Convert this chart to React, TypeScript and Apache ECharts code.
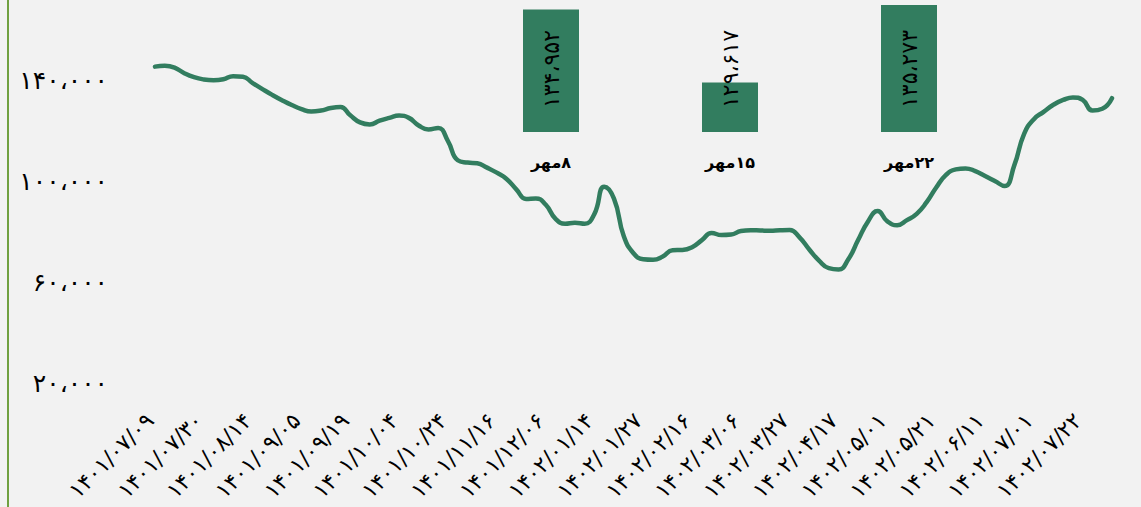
import React, { useEffect, useRef } from "react";
import * as echarts from "echarts";

// X tick labels (every 5th data point)
const dateLabels: string[] = [
  "۱۴۰۱/۰۷/۰۹", "۱۴۰۱/۰۷/۳۰", "۱۴۰۱/۰۸/۱۴", "۱۴۰۱/۰۹/۰۵", "۱۴۰۱/۰۹/۱۹",
  "۱۴۰۱/۱۰/۰۴", "۱۴۰۱/۱۰/۲۴", "۱۴۰۱/۱۱/۱۶", "۱۴۰۱/۱۲/۰۶", "۱۴۰۲/۰۱/۱۴",
  "۱۴۰۲/۰۱/۲۷", "۱۴۰۲/۰۲/۱۶", "۱۴۰۲/۰۳/۰۶", "۱۴۰۲/۰۳/۲۷", "۱۴۰۲/۰۴/۱۷",
  "۱۴۰۲/۰۵/۰۱", "۱۴۰۲/۰۵/۲۱", "۱۴۰۲/۰۶/۱۱", "۱۴۰۲/۰۷/۰۱", "۱۴۰۲/۰۷/۲۲",
];

// Line series values
const lineValues: number[] = [
  145300, 145600, 144900, 142700, 141100, 140200, 139900, 140300, 141500, 141300,
  138800, 136400, 134100, 132000, 130100, 128500, 127500, 127900, 128900, 129300,
  126000, 123200, 122400, 123900, 125000, 125900, 125000, 122000, 120400, 121000,
  115800, 108200, 107300, 107000, 105300, 103300, 100800, 96700, 92900, 93100,
  90700, 85100, 83100, 83500, 83100, 87000, 97700, 93000, 78200, 71400,
  69000, 68800, 70100, 72600, 72700, 73800, 76600, 79400, 78600, 78800,
  80200, 80500, 80400, 80300, 80500, 80600, 77700, 72900, 68500, 65500,
  65000, 69000, 76600, 83900, 88100, 84000, 82500, 84500, 87000, 91500,
  97400, 102400, 104600, 105000, 103900, 102000, 100000, 98000, 106300, 118700,
  124500, 127400, 130200, 132100, 133100, 132100, 127900, 128600, 132800,
];

// Inset bar chart
const barCategories: string[] = ["۸مهر", "۱۵مهر", "۲۲مهر"];
const barValues: number[] = [134952, 129617, 135273];

const FA_DIGITS = "۰۱۲۳۴۵۶۷۸۹";
const toFa = (s: string) => s.replace(/\d/g, (d) => FA_DIGITS[+d]);
const fmtNum = (n: number) =>
  toFa(String(Math.round(n)).replace(/\B(?=(\d{3})+(?!\d))/g, "،"));

const GREEN = "#327D5F";
const FONT = "DejaVu Sans";

export default function App() {
  const ref = useRef<HTMLDivElement>(null);

  useEffect(() => {
    if (!ref.current) return;
    const chart = echarts.init(ref.current, undefined, { renderer: "svg" });
    const categories = lineValues.map((_, i) => String(i));

    chart.setOption({
      animation: false,
      backgroundColor: "#F2F2F2",
      textStyle: { fontFamily: FONT },
      graphic: [
        {
          type: "rect",
          shape: { x: 7, y: 0, width: 2, height: 507 },
          style: { fill: "#70A040" },
          silent: true,
        },
      ],
      grid: [
        { left: 155, right: 29, top: 29.5, bottom: 124 },
        { left: 461.5, right: 142.5, top: 2, bottom: 375 },
      ],
      xAxis: [
        {
          type: "category",
          gridIndex: 0,
          data: categories,
          boundaryGap: false,
          axisLine: { show: false },
          axisTick: { show: false },
          splitLine: { show: false },
          axisLabel: {
            interval: 4,
            rotate: 45,
            margin: 29,
            padding: [0, 7, 0, 0],
            fontSize: 22,
            color: "#000",
            fontFamily: FONT,
            formatter: (_v: string, idx: number) =>
              idx % 5 === 0 ? dateLabels[idx / 5] ?? "" : "",
          },
        },
        {
          type: "category",
          gridIndex: 1,
          data: barCategories,
          axisLine: { show: false },
          axisTick: { show: false },
          axisLabel: {
            margin: 22,
            fontSize: 16,
            fontWeight: "bold",
            color: "#000",
            fontFamily: FONT,
            formatter: (v: string) => "\u200F" + v,
          },
        },
      ],
      yAxis: [
        {
          type: "value",
          gridIndex: 0,
          min: 20000,
          max: 160000,
          interval: 40000,
          axisLine: { show: false },
          axisTick: { show: false },
          splitLine: { show: false },
          axisLabel: {
            showMaxLabel: false,
            margin: 47,
            fontSize: 25,
            color: "#000",
            fontFamily: FONT,
            formatter: (v: number) => fmtNum(v),
          },
        },
        {
          type: "value",
          gridIndex: 1,
          min: 126000,
          max: 135500,
          show: false,
        },
      ],
      series: [
        {
          type: "line",
          xAxisIndex: 0,
          yAxisIndex: 0,
          data: lineValues,
          smooth: 0.5,
          showSymbol: false,
          lineStyle: { color: GREEN, width: 4.5, cap: "round", join: "round" },
          itemStyle: { color: GREEN },
        },
        {
          type: "bar",
          xAxisIndex: 1,
          yAxisIndex: 1,
          data: barValues,
          barWidth: 56,
          itemStyle: { color: GREEN },
          label: {
            show: true,
            position: "insideBottom",
            distance: 24,
            rotate: 90,
            align: "left",
            verticalAlign: "middle",
            fontSize: 22,
            color: "#000",
            fontFamily: FONT,
            formatter: (p: any) => fmtNum(p.value),
          },
        },
      ],
    });

    return () => chart.dispose();
  }, []);

  return (
    <div
      ref={ref}
      style={{ position: "absolute", left: 0, top: 0, width: 1141, height: 507 }}
    />
  );
}
